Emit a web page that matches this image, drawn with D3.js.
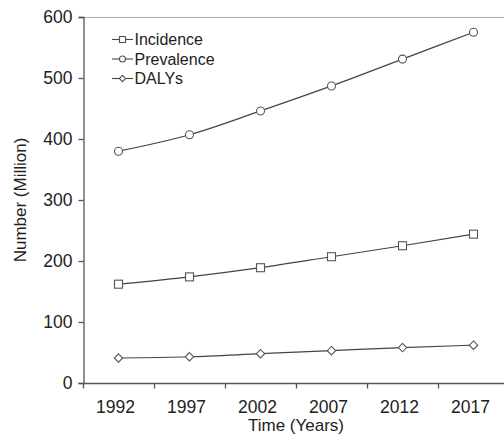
<!DOCTYPE html>
<html><head><meta charset="utf-8">
<script src="https://cdn.jsdelivr.net/npm/d3@7"></script>
<style>body{margin:0;background:#fff}svg{display:block}text{font-family:"Liberation Sans",Arial,sans-serif;fill:#222}</style>
</head><body>
<svg id="c" width="504" height="436"></svg>
<script>
const years = ["1992","1997","2002","2007","2012","2017"];
const incidence = [162,174,189,207,225,244];
const prevalence = [380,407,446,487,531,575];
const dalys = [41,43,48,53,58,62];
const yTicks = [0,100,200,300,400,500,600];
const seriesNames = ["Incidence","Prevalence","DALYs"];
const seriesShapes = ["square","circle","diamond"];

const svg = d3.select("#c");
const x = d3.scaleBand().domain(years).range([83,509]);
const y = d3.scaleLinear().domain([0,600]).range([383,17]);
const ax = "#555";

// top border
svg.append("line").attr("x1",83).attr("x2",504).attr("y1",17.5).attr("y2",17.5).attr("stroke","#aaa").attr("stroke-width",1);

// y axis
const gy = svg.append("g").attr("transform","translate(83.5,0)").call(d3.axisLeft(y).tickValues(yTicks).tickSize(5).tickPadding(6));
gy.selectAll("path,line").attr("stroke",ax).attr("stroke-width",1.3);
gy.selectAll("text").style("font-size","17.5px").attr("fill","#222");

// x axis with ticks at band boundaries
const gx = svg.append("g").attr("transform","translate(0,383.5)");
gx.append("line").attr("x1",83).attr("x2",504).attr("stroke",ax).attr("stroke-width",1.5);
gx.selectAll(".tk").data(years).join("line").attr("class","tk")
  .attr("x1",d=>Math.round(x(d))+0.5).attr("x2",d=>Math.round(x(d))+0.5).attr("y1",0).attr("y2",5).attr("stroke",ax).attr("stroke-width",1.3);
gx.selectAll(".lb").data(years).join("text").attr("class","lb")
  .attr("x",d=>x(d)+x.bandwidth()/2-3).attr("y",29.5).attr("text-anchor","middle").style("font-size","17.5px").text(d=>d);

// axis titles
svg.append("text").attr("transform","translate(26,200) rotate(-90)").attr("text-anchor","middle").style("font-size","17px").text("Number (Million)");
svg.append("text").attr("x",296).attr("y",430.5).attr("text-anchor","middle").style("font-size","17px").text("Time (Years)");

const cx = d => x(d)+x.bandwidth()/2;
const line = d3.line().x((v,i)=>cx(years[i])).y(v=>y(v)).curve(d3.curveMonotoneX);
const lineColor = "#444";

function marker(g, shape, px, py, s){
  let el;
  if(shape==="square") el = g.append("rect").attr("x",px-s/2).attr("y",py-s/2).attr("width",s).attr("height",s);
  else if(shape==="circle") el = g.append("circle").attr("cx",px).attr("cy",py).attr("r",s/2);
  else el = g.append("path").attr("d",`M${px},${py-s/2*1.05}L${px+s/2*1.05},${py}L${px},${py+s/2*1.05}L${px-s/2*1.05},${py}Z`);
  el.attr("fill","#fff").attr("stroke","#555").attr("stroke-width",1.1);
}

[incidence,prevalence,dalys].forEach((data,k)=>{
  svg.append("path").attr("d",line(data)).attr("fill","none").attr("stroke",lineColor).attr("stroke-width",1.2);
  const g = svg.append("g");
  data.forEach((v,i)=>marker(g, seriesShapes[k], cx(years[i]), y(v), 8));
});

// legend
seriesNames.forEach((n,k)=>{
  const ly = 39.5 + k*19.5;
  svg.append("line").attr("x1",112).attr("x2",133).attr("y1",ly).attr("y2",ly).attr("stroke",lineColor).attr("stroke-width",1.1);
  marker(svg.append("g"), seriesShapes[k], 122.5, ly, 6);
  svg.append("text").attr("x",134.5).attr("y",ly+5.5).style("font-size","16px").text(n);
});
</script>
</body></html>
